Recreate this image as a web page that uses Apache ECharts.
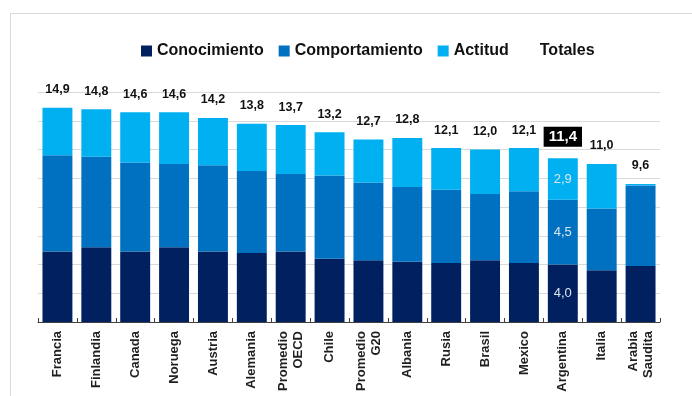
<!DOCTYPE html>
<html>
<head>
<meta charset="utf-8">
<script src="https://cdn.jsdelivr.net/npm/echarts@6/dist/echarts.min.js"></script>
<style>
  html, body { margin: 0; padding: 0; background: #ffffff; }
  #chart { width: 692px; height: 396px; }
</style>
</head>
<body>
<div id="chart"></div>
<script>
// Puntaje por dimensión y país
const categories = ['Francia', 'Finlandia', 'Canada', 'Noruega', 'Austria', 'Alemania', 'Promedio\nOECD', 'Chile',
  'Promedio\nG20', 'Albania', 'Rusia', 'Brasil', 'Mexico', 'Argentina', 'Italia', 'Arabia\nSaudita'];
const conocimiento   = [4.9, 5.2, 4.9, 5.2, 4.9, 4.8, 4.9, 4.4, 4.3, 4.2, 4.1, 4.3, 4.1, 4.0, 3.6, 3.9];
const comportamiento = [6.7, 6.3, 6.2, 5.8, 6.0, 5.7, 5.4, 5.8, 5.4, 5.2, 5.1, 4.6, 5.0, 4.5, 4.3, 5.6];
const actitud        = [3.3, 3.3, 3.5, 3.6, 3.3, 3.3, 3.4, 3.0, 3.0, 3.4, 2.9, 3.1, 3.0, 2.9, 3.1, 0.1];
const totales        = [14.9, 14.8, 14.6, 14.6, 14.2, 13.8, 13.7, 13.2, 12.7, 12.8, 12.1, 12.0, 12.1, 11.4, 11.0, 9.6];
const yTicks = [0, 2, 4, 6, 8, 10, 12, 14, 16];
const destacado = 'Argentina';

const FONT = "'Liberation Sans', Arial, sans-serif";
const fmt = v => Number(v).toFixed(1).replace('.', ',');
const hi = categories.indexOf(destacado);

// Values of one stacked dimension; the highlighted country shows its own value inside the segment
function segData(values) {
  return values.map((v, i) => i === hi ? {
    value: v,
    label: { show: true, position: 'inside', formatter: p => fmt(p.value),
      color: '#dde4ee', fontSize: 13, fontFamily: FONT }
  } : v);
}

const totalData = totales.map((v, i) => i === hi ? {
  value: v,
  label: { color: '#ffffff', backgroundColor: '#000000', fontSize: 15, padding: [3, 5, 2, 5], distance: 11 }
} : v);

const chart = echarts.init(document.getElementById('chart'), null, { renderer: 'canvas' });
chart.setOption({
  animation: false,
  textStyle: { fontFamily: FONT },
  color: ['#002060', '#0070C0', '#00B0F0', '#000000'],
  legend: {
    left: 141, top: 43, padding: 0,
    itemWidth: 11, itemHeight: 11, itemGap: 15,
    textStyle: { fontFamily: FONT, fontSize: 16, fontWeight: 'bold', color: '#111111' },
    data: [
      { name: 'Conocimiento', icon: 'rect' },
      { name: 'Comportamiento', icon: 'rect' },
      { name: 'Actitud', icon: 'rect' },
      { name: 'Totales', icon: 'none' }
    ]
  },
  grid: { left: 38, right: 32, top: 92, bottom: 74 },
  xAxis: {
    type: 'category',
    data: categories,
    axisLine: { lineStyle: { color: '#404040', width: 1 } },
    axisTick: { show: true, inside: true, length: 4, lineStyle: { color: '#404040' } },
    axisLabel: { rotate: 90, margin: 9, interval: 0, fontSize: 13, fontWeight: 'bold', color: '#1f1f1f',
      fontFamily: FONT, lineHeight: 15 }
  },
  yAxis: {
    type: 'value',
    min: yTicks[0], max: yTicks[yTicks.length - 1], interval: yTicks[1] - yTicks[0],
    axisLabel: { show: false },
    axisLine: { show: false },
    axisTick: { show: false },
    splitLine: { lineStyle: { color: '#d9d9d9', width: 1 } }
  },
  series: [
    { name: 'Conocimiento', type: 'bar', stack: 'total', barCategoryGap: '23%', data: segData(conocimiento) },
    { name: 'Comportamiento', type: 'bar', stack: 'total', barCategoryGap: '23%', data: segData(comportamiento) },
    { name: 'Actitud', type: 'bar', stack: 'total', barCategoryGap: '23%', data: segData(actitud) },
    {
      name: 'Totales', type: 'scatter', symbolSize: 1,
      itemStyle: { color: 'rgba(0,0,0,0)', opacity: 1 },
      label: { show: true, position: 'top', distance: 11, formatter: p => fmt(p.value),
        fontSize: 12.5, fontWeight: 'bold', color: '#111111', fontFamily: FONT },
      z: 5,
      data: totalData
    }
  ],
  graphic: [
    { type: 'line', silent: true, shape: { x1: 10, y1: 13.5, x2: 692, y2: 13.5 }, style: { stroke: '#d9d9d9', lineWidth: 1 } },
    { type: 'line', silent: true, shape: { x1: 10.5, y1: 13, x2: 10.5, y2: 396 }, style: { stroke: '#d9d9d9', lineWidth: 1 } }
  ]
});
</script>
</body>
</html>
